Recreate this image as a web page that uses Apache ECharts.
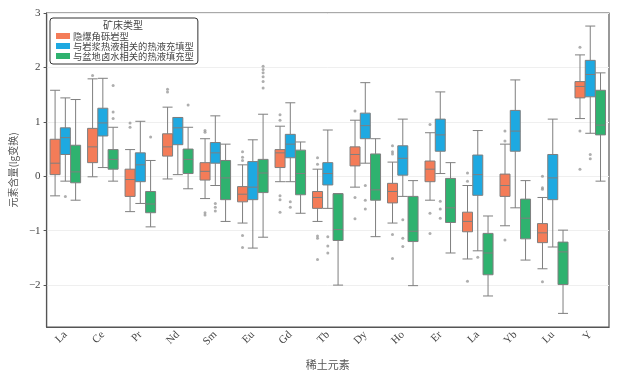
<!DOCTYPE html>
<html>
<head>
<meta charset="utf-8">
<script src="https://cdn.jsdelivr.net/npm/echarts@6/dist/echarts.min.js"></script>
<style>
  html, body { margin: 0; padding: 0; background: #fff; }
  #chart { width: 626px; height: 375px; }
</style>
</head>
<body>
<div id="chart"></div>
<script>
// 稀土元素 (x categories), note "La" appears twice as in the source figure
const elements = ['La', 'Ce', 'Pr', 'Nd', 'Sm', 'Eu', 'Gd', 'Tb', 'Dy', 'Ho', 'Er', 'La', 'Yb', 'Lu', 'Y'];
const typeNames = ['隐爆角砾岩型', '与岩浆热液相关的热液充填型', '与盆地卤水相关的热液填充型'];
const typeColors = ['#f47c58', '#1ea9e1', '#2fb26f'];

// [min, Q1, median, Q3, max]
const brecciaBox = [
  [-0.36, 0.03, 0.24, 0.68, 1.58], [-0.01, 0.25, 0.54, 0.88, 1.79], [-0.65, -0.37, -0.06, 0.13, 0.49],
  [-0.05, 0.37, 0.54, 0.78, 1.27], [-0.41, -0.07, 0.09, 0.25, 0.69], [-0.86, -0.47, -0.33, -0.19, 0.21],
  [-0.10, 0.16, 0.43, 0.49, 0.92], [-0.83, -0.59, -0.39, -0.28, 0.13], [-0.20, 0.19, 0.40, 0.54, 1.03],
  [-0.86, -0.49, -0.28, -0.13, 0.26], [-0.44, -0.10, 0.13, 0.28, 0.80], [-1.52, -1.02, -0.83, -0.66, -0.17],
  [-0.91, -0.37, -0.17, 0.04, 0.59], [-1.70, -1.22, -1.04, -0.87, -0.39], [1.06, 1.44, 1.65, 1.74, 2.23]
];
const magmaticBox = [
  [-0.09, 0.40, 0.71, 0.89, 1.44], [0.16, 0.74, 0.98, 1.25, 1.80], [-0.50, -0.10, 0.21, 0.43, 1.01],
  [0.03, 0.58, 0.89, 1.08, 1.08], [-0.17, 0.24, 0.43, 0.62, 1.11], [-1.32, -0.43, -0.20, 0.27, 0.67],
  [-0.10, 0.34, 0.59, 0.77, 1.35], [-0.59, -0.16, 0.05, 0.25, 0.85], [0.24, 0.69, 0.93, 1.16, 1.72],
  [-0.37, 0.02, 0.33, 0.56, 1.05], [0.05, 0.46, 0.76, 1.05, 1.55], [-1.37, -0.35, 0.03, 0.39, 0.84],
  [-0.58, 0.46, 0.83, 1.21, 1.77], [-1.30, -0.43, -0.03, 0.40, 1.05], [0.79, 1.46, 1.87, 2.13, 2.76]
];
const basinBox = [
  [-0.44, -0.12, 0.08, 0.57, 1.41], [-0.09, 0.13, 0.31, 0.49, 0.90], [-0.93, -0.67, -0.51, -0.28, 0.29],
  [-0.23, 0.05, 0.31, 0.50, 0.90], [-0.83, -0.43, -0.03, 0.29, 0.59], [-1.12, -0.30, 0.06, 0.31, 1.14],
  [-0.68, -0.34, 0.05, 0.48, 0.63], [-2.00, -1.18, -0.98, -0.32, -0.32], [-1.11, -0.44, -0.25, 0.41, 0.69],
  [-2.01, -1.20, -1.01, -0.37, -0.08], [-1.41, -0.85, -0.58, -0.04, 0.25], [-2.20, -1.81, -1.41, -1.05, -0.73],
  [-1.54, -1.15, -0.77, -0.42, -0.08], [-2.52, -1.99, -1.39, -1.21, -0.99], [-0.09, 0.76, 0.94, 1.58, 1.90]
];

// outliers per element
const brecciaOut = [
  [], [1.85], [0.98, 0.90], [1.60, 1.55], [0.84, 0.81, -0.67, -0.71], [0.45, 0.35, 0.29, -1.09, -1.31],
  [1.13, 1.03, -0.36, -0.43, -0.66], [0.34, 0.22, -1.10, -1.14, -1.53], [1.20, -0.39, -0.78],
  [0.56, 0.45, 0.41, -1.07, -1.51], [0.95, -0.68, -1.05], [0.06, -0.09, -1.93], [0.83, 0.65, -1.17],
  [0.00, -0.21, -0.24, -1.94], [2.37, 0.83, 0.13]
];
const magmaticOut = [
  [-0.37], [], [], [], [-0.50, -0.57, -0.64], [], [-0.47, -0.57], [-1.11, -1.28, -1.41],
  [-0.17, -0.44, -0.60], [-0.80, -1.14, -1.29], [-0.46, -0.60, -0.77], [-1.49], [], [], [0.40, 0.32]
];
const basinOut = [
  [], [1.67, 1.18, 1.06], [0.72], [1.31], [], [2.02, 1.96, 1.90, 1.83, 1.74, 1.62],
  [], [], [], [], [], [], [], [], []
];

const boxes = [brecciaBox, magmaticBox, basinBox];
const outs = [brecciaOut, magmaticOut, basinOut];
const offsets = [-10.3, 0, 10.3];

const serif = 'Liberation Serif, DejaVu Serif, serif';
const cjk = 'Noto Sans CJK SC, sans-serif';

const series = [];
boxes.forEach((b, k) => {
  series.push({
    name: typeNames[k],
    type: 'boxplot',
    data: b,
    boxWidth: [10, 10],
    itemStyle: { color: typeColors[k], borderColor: '#7f7f7f', borderWidth: 1 },
    emphasis: { disabled: true }
  });
});
outs.forEach((o, k) => {
  const pts = [];
  o.forEach((vals, i) => vals.forEach(v => pts.push([i, v])));
  series.push({
    name: 'outlier' + k,
    type: 'scatter',
    data: pts,
    symbol: 'circle',
    symbolSize: 3,
    symbolOffset: [offsets[k], 0],
    itemStyle: { color: '#9a9a9a' },
    z: 3
  });
});

let chart = echarts.init(document.getElementById('chart'));
chart.setOption({
  animation: false,
  title: {
    text: '矿床类型',
    left: 123,
    top: 20,
    padding: 0,
    textAlign: 'center',
    textStyle: { fontFamily: cjk, fontSize: 10, fontWeight: 'normal', color: '#444', lineHeight: 11 }
  },
  legend: {
    data: typeNames.map((n, k) => ({ name: n, itemStyle: { color: typeColors[k], borderWidth: 0 } })),
    orient: 'vertical',
    left: 50,
    top: 18,
    width: 147,
    padding: [13, 4, 3, 6],
    itemWidth: 14,
    itemHeight: 6,
    itemGap: 0,
    icon: 'rect',
    borderColor: '#333',
    borderWidth: 1,
    borderRadius: 3,
    backgroundColor: '#fff',
    textStyle: { fontFamily: cjk, fontSize: 9.3, color: '#444', lineHeight: 10, padding: [0, 0, 0, -2] }
  },
  grid: {
    left: 46, right: 17, top: 13, bottom: 39,
    show: true, borderColor: '#555', borderWidth: 1.2
  },
  xAxis: {
    type: 'category',
    data: elements,
    name: '稀土元素',
    nameLocation: 'middle',
    nameGap: 32,
    nameTextStyle: { fontFamily: cjk, fontSize: 11, color: '#555' },
    axisLine: { onZero: false, lineStyle: { color: '#555', width: 1.2 } },
    axisTick: { alignWithLabel: true, length: 3, lineStyle: { color: '#555' } },
    axisLabel: { rotate: 45, margin: 6, fontFamily: serif, fontSize: 11, color: '#444' },
    splitLine: { show: false }
  },
  yAxis: {
    type: 'value',
    min: -2.77,
    max: 3,
    name: '元素含量(lg变换)',
    nameLocation: 'middle',
    nameRotate: 90,
    nameGap: 26,
    nameTextStyle: { fontFamily: cjk, fontSize: 10, color: '#555' },
    axisLine: { show: true, lineStyle: { color: '#555', width: 1.2 } },
    axisTick: { show: true, length: 3, lineStyle: { color: '#555' } },
    axisLabel: {
      showMinLabel: false,
      fontFamily: serif, fontSize: 11, color: '#444', margin: 6,
      formatter: v => (v < 0 ? '\u2212' + Math.abs(v) : String(v))
    },
    splitLine: { show: true, lineStyle: { color: '#efefef', width: 1 } }
  },
  series: series
});
</script>
</body>
</html>
